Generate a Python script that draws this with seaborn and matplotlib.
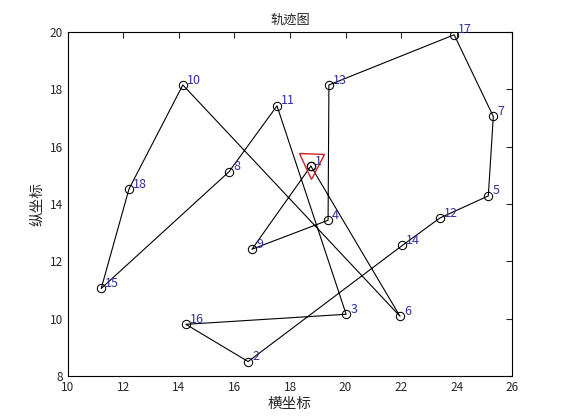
import matplotlib
matplotlib.use('Agg')
import matplotlib.pyplot as plt
import seaborn as sns
import pandas as pd

# city coordinates
city_ids = list(range(1, 19))
city_x = [18.75, 16.49, 20.02, 19.37, 25.14, 21.96, 25.32, 15.80, 16.63,
          14.14, 17.53, 23.40, 19.40, 22.04, 11.20, 14.25, 23.91, 12.20]
city_y = [15.32, 8.50, 10.15, 13.43, 14.28, 10.08, 17.05, 15.12, 12.42,
          18.15, 17.42, 13.51, 18.15, 12.55, 11.05, 9.80, 19.90, 14.52]
route = [1, 9, 4, 13, 17, 7, 5, 12, 14, 2, 16, 3, 11, 8, 15, 18, 10, 6, 1]

sns.set_style('white')
plt.rcParams['font.family'] = ['Noto Sans CJK SC', 'DejaVu Sans']

df = pd.DataFrame({
    'step': range(len(route)),
    'x': [city_x[c - 1] for c in route],
    'y': [city_y[c - 1] for c in route],
})

fig = plt.figure(figsize=(5.61, 4.2), dpi=100)
ax = fig.add_axes([0.121, 0.105, 0.792, 0.819])
sns.lineplot(data=df, x='x', y='y', sort=False, estimator=None, color='black',
             lw=0.8, marker='o', markersize=6, markerfacecolor='none',
             markeredgecolor='black', ax=ax)
ax.plot(city_x[0], city_y[0], marker='v', markersize=18, markerfacecolor='none',
        markeredgecolor='#d02020', linestyle='none')
for i, x, y in zip(city_ids, city_x, city_y):
    ax.text(x + 0.15, y + 0.05, str(i), color='#3030a0', fontsize=9)

ax.set_xlim(10, 26)
ax.set_ylim(8, 20)
ax.set_xticks(range(10, 27, 2))
ax.set_yticks(range(8, 21, 2))
ax.tick_params(direction='in', length=4, labelsize=8.5, top=True, right=True)
for s in ax.spines.values():
    s.set_color('black')
    s.set_linewidth(0.8)
ax.set_title('轨迹图', fontsize=9.5)
ax.set_xlabel('横坐标', fontsize=10.5, labelpad=2)
ax.set_ylabel('纵坐标', fontsize=10.5)
fig.savefig('out.png', dpi=100)
